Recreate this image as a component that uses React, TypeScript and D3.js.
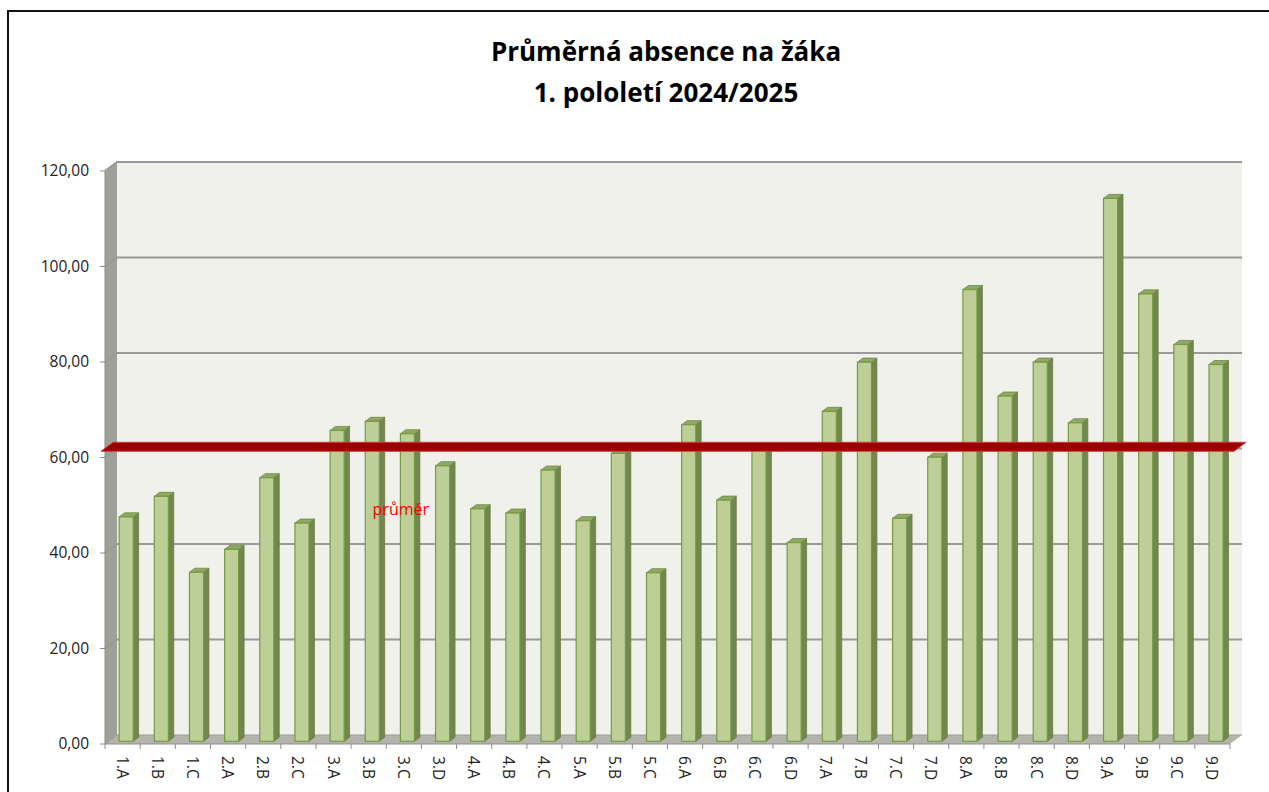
import * as d3 from 'd3';

// Class labels along the x axis
const categories = [
  '1.A', '1.B', '1.C', '2.A', '2.B', '2.C', '3.A', '3.B', '3.C', '3.D',
  '4.A', '4.B', '4.C', '5.A', '5.B', '5.C', '6.A', '6.B', '6.C', '6.D',
  '7.A', '7.B', '7.C', '7.D', '8.A', '8.B', '8.C', '8.D', '9.A', '9.B', '9.C', '9.D',
];

// Average absence per pupil (hours)
const absence = [
  47.0, 51.3, 35.4, 40.2, 55.2, 45.7, 65.1, 67.0, 64.4, 57.7,
  48.7, 47.8, 56.8, 46.2, 60.3, 35.3, 66.3, 50.5, 61.3, 41.6,
  69.1, 79.4, 46.7, 59.5, 94.6, 72.3, 79.4, 66.7, 113.7, 93.7, 83.1, 78.9,
];

// School average ("průměr")
const average = [61.3];

const yTicks = [0, 20, 40, 60, 80, 100, 120];

const titleLines = ['Průměrná absence na žáka', '1. pololetí 2024/2025'];
const averageLabel = 'průměr';

const W = 1269;
const H = 792;
const FONT = "'Open Sans', 'Noto Sans', sans-serif";

// 3D depth of the plot box
const DX = 12;
const DY = -9;

export default function App() {
  const x = d3.scaleBand<string>().domain(categories).range([105, 1230]);
  const y = d3.scaleLinear().domain([0, 120]).range([744, 171]);
  const bw = x.bandwidth();
  const [x0, x1] = x.range();

  // project a front-plane point back by depth fraction f
  const p = (px: number, v: number, f: number) => [px + f * DX, y(v) + f * DY];
  const pts = (list: number[][]) => list.map((d) => d.join(',')).join(' ');
  const fmt = (v: number) => d3.format('.2f')(v).replace('.', ',');

  // bars sit between depth 0.3 and 0.75
  const fFront = 0.3;
  const fBack = 0.75;
  const bdx = (fBack - fFront) * DX;
  const bdy = (fBack - fFront) * DY;

  const avg = average[0];

  return (
    <div style={{ position: 'fixed', left: 0, top: 0 }}>
      <svg width={W} height={H} style={{ display: 'block', background: '#fff' }}>
        {/* outer frame */}
        <rect x={8} y={11} width={1400} height={900} fill="#fff" stroke="#111" strokeWidth={2} />

        {/* title */}
        <text x={666} y={61} textAnchor="middle" fontFamily={FONT} fontWeight="bold" fontSize={26} fill="#000">
          {titleLines[0]}
        </text>
        <text x={666} y={102} textAnchor="middle" fontFamily={FONT} fontWeight="bold" fontSize={26} fill="#000">
          {titleLines[1]}
        </text>

        {/* back wall */}
        <polygon
          points={pts([p(x0, 120, 1), p(x1, 120, 1), p(x1, 0, 1), p(x0, 0, 1)])}
          fill="#eff1ea"
        />
        {/* side wall */}
        <polygon
          points={pts([p(x0, 0, 0), p(x0, 0, 1), p(x0, 120, 1), p(x0, 120, 0)])}
          fill="#9fa199"
        />
        {/* floor */}
        <polygon
          points={pts([p(x0, 0, 0), p(x1, 0, 0), p(x1, 0, 1), p(x0, 0, 1)])}
          fill="#b3b5ad"
        />

        {/* gridlines */}
        {yTicks.map((t) => (
          <polyline
            key={'g' + t}
            points={pts([p(x0, t, 0), p(x0, t, 1), p(x1, t, 1)])}
            fill="none"
            stroke="#999a97"
            strokeWidth={t === 0 ? 1 : 2}
          />
        ))}

        {/* y axis */}
        <line x1={x0} y1={y(0)} x2={x0} y2={y(120)} stroke="#8c8c8c" strokeWidth={1} />
        {yTicks.map((t) => (
          <g key={'yt' + t}>
            <line x1={x0 - 5} y1={y(t)} x2={x0} y2={y(t)} stroke="#8c8c8c" strokeWidth={1} />
            <text
              x={89}
              y={y(t)}
              dy="0.35em"
              textAnchor="end"
              fontFamily={FONT}
              fontSize={15.5}
              fill="#222"
            >
              {fmt(t)}
            </text>
          </g>
        ))}

        {/* x axis */}
        <line x1={x0} y1={y(0)} x2={x1} y2={y(0)} stroke="#8c8c8c" strokeWidth={1} />
        {categories.map((c) => (
          <line key={'xt' + c} x1={x(c)!} y1={y(0)} x2={x(c)!} y2={y(0) + 5} stroke="#8c8c8c" strokeWidth={1} />
        ))}
        <line x1={x1} y1={y(0)} x2={x1} y2={y(0) + 5} stroke="#8c8c8c" strokeWidth={1} />
        {categories.map((c) => (
          <text
            key={'xl' + c}
            transform={`translate(${x(c)! + bw / 2},${756}) rotate(90)`}
            dominantBaseline="central"
            textAnchor="start"
            fontFamily={FONT}
            fontSize={15.5}
            fill="#222"
          >
            {c}
          </text>
        ))}

        {/* bars */}
        {categories.map((c, i) => {
          const v = absence[i];
          const bx0 = x(c)! + bw * 0.3 + fFront * DX;
          const bx1 = bx0 + bw * 0.4;
          const yt = y(v) + fFront * DY;
          const yb = y(0) + fFront * DY;
          return (
            <g key={'b' + c}>
              <polygon
                points={pts([[bx1, yb], [bx1 + bdx, yb + bdy], [bx1 + bdx, yt + bdy], [bx1, yt]])}
                fill="#728650"
                stroke="#6a7d45"
                strokeWidth={0.8}
              />
              <polygon
                points={pts([[bx0, yt], [bx1, yt], [bx1 + bdx, yt + bdy], [bx0 + bdx, yt + bdy]])}
                fill="#90a866"
                stroke="#6f8a40"
                strokeWidth={0.8}
              />
              <rect
                x={bx0}
                y={yt}
                width={bx1 - bx0}
                height={yb - yt}
                fill="#bdcf96"
                stroke="#789a44"
                strokeWidth={1.2}
              />
            </g>
          );
        })}

        {/* average ribbon */}
        <polygon
          points={pts([p(x0 - 4, avg, 0), p(x1 + 4, avg, 0), p(x1 + 4, avg, 1), p(x0 - 4, avg, 1)])}
          fill="#990000"
          stroke="#d23a3a"
          strokeWidth={1}
        />

        <text
          x={x('3.C')! + bw / 2 - 3}
          y={509}
          dy="0.35em"
          textAnchor="middle"
          fontFamily={FONT}
          fontSize={16}
          fill="#ff0000"
        >
          {averageLabel}
        </text>
      </svg>
    </div>
  );
}
